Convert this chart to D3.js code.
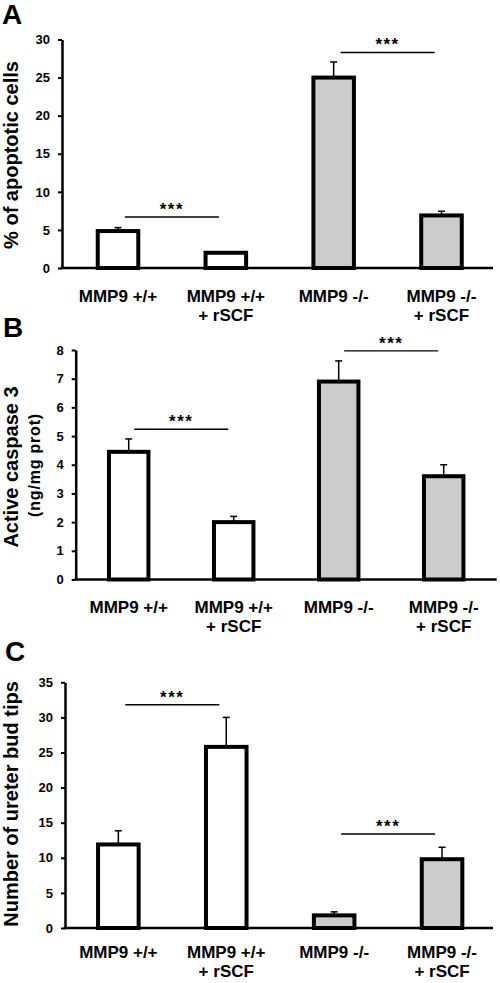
<!DOCTYPE html>
<html>
<head>
<meta charset="utf-8">
<script src="https://cdn.jsdelivr.net/npm/d3@7"></script>
<style>
html, body { margin: 0; padding: 0; background: #fff; }
svg { display: block; }
</style>
</head>
<body>
<svg id="chart" width="500" height="983"></svg>
<script>
// ---------- data ----------
const categoryLines = [["MMP9 +/+"], ["MMP9 +/+", "+ rSCF"], ["MMP9 -/-"], ["MMP9 -/-", "+ rSCF"]];
const categoryKeys = ["wt", "wt_rscf", "ko", "ko_rscf"];

const apoptosisValues = [4.85, 2.0, 25.0, 6.9];
const apoptosisErrors = [0.45, 0.1, 2.05, 0.55];
const apoptosisTicks = [0, 5, 10, 15, 20, 25, 30];
const apoptosisSig = [[0, 1, 6.7], [2, 3, 28.3]];

const caspaseValues = [4.45, 2.0, 6.9, 3.6];
const caspaseErrors = [0.45, 0.2, 0.72, 0.4];
const caspaseTicks = [0, 1, 2, 3, 4, 5, 6, 7, 8];
const caspaseSig = [[0, 1, 5.24], [2, 3, 7.97]];

const tipsValues = [11.9, 25.8, 1.8, 9.8];
const tipsErrors = [1.95, 4.2, 0.5, 1.7];
const tipsTicks = [0, 5, 10, 15, 20, 25, 30, 35];
const tipsSig = [[0, 1, 31.8], [2, 3, 13.4]];

const panelLetters = ["A", "B", "C"];

// ---------- drawing ----------
const svg = d3.select("#chart");
const FONT = "'Liberation Sans', Arial, Helvetica, sans-serif";
const fills = ["#ffffff", "#ffffff", "#cccccc", "#cccccc"];

function drawPanel(cfg) {
  const g = svg.append("g");
  const max = cfg.ticks[cfg.ticks.length - 1];
  const y = d3.scaleLinear().domain([0, max]).range([cfg.y0, cfg.yTop]);
  const x = d3.scaleBand().domain(categoryKeys).range(cfg.xRange)
    .paddingInner(0.624).paddingOuter(0.312);

  // panel letter
  g.append("text").attr("x", cfg.letterX).attr("y", cfg.letterY)
    .attr("font-family", FONT).attr("font-weight", "bold").attr("font-size", 28)
    .attr("fill", "#000").text(cfg.letter);

  // y axis
  const yAxis = d3.axisLeft(y).tickValues(cfg.ticks).tickSize(4).tickSizeOuter(0).tickPadding(8)
    .tickFormat(d3.format("d"));
  const ya = g.append("g").attr("transform", `translate(${cfg.axisX},0)`).call(yAxis);
  ya.select(".domain").attr("stroke", "#000").attr("stroke-width", 2.5);
  ya.selectAll(".tick line").attr("stroke", "#000").attr("stroke-width", 2);
  ya.selectAll(".tick text").attr("font-family", FONT).attr("font-weight", "bold")
    .attr("font-size", 13).attr("fill", "#000");

  // bars
  const data = cfg.values.map((v, i) => ({ key: categoryKeys[i], v: v, e: cfg.errors[i], i: i }));
  g.selectAll("rect.bar").data(data).enter().append("rect").attr("class", "bar")
    .attr("x", d => x(d.key)).attr("width", x.bandwidth())
    .attr("y", d => y(d.v)).attr("height", d => y(0) - y(d.v))
    .attr("fill", d => fills[d.i]).attr("stroke", "#000").attr("stroke-width", 4);

  // error bars
  const eg = g.selectAll("g.err").data(data).enter().append("g").attr("class", "err");
  eg.append("line")
    .attr("x1", d => x(d.key) + x.bandwidth() / 2).attr("x2", d => x(d.key) + x.bandwidth() / 2)
    .attr("y1", d => y(d.v)).attr("y2", d => y(d.v + d.e))
    .attr("stroke", "#000").attr("stroke-width", 1.5);
  eg.append("line")
    .attr("x1", d => x(d.key) + x.bandwidth() / 2 - 3.5).attr("x2", d => x(d.key) + x.bandwidth() / 2 + 3.5)
    .attr("y1", d => y(d.v + d.e)).attr("y2", d => y(d.v + d.e))
    .attr("stroke", "#000").attr("stroke-width", 1.5);

  // x axis line
  g.append("line").attr("x1", cfg.axisX - 1.25).attr("x2", cfg.axisEnd)
    .attr("y1", y(0)).attr("y2", y(0)).attr("stroke", "#000").attr("stroke-width", 2.5);

  // category labels
  categoryKeys.forEach((k, i) => {
    const t = g.append("text").attr("text-anchor", "middle")
      .attr("font-family", FONT).attr("font-weight", "bold").attr("font-size", 17).attr("fill", "#000");
    categoryLines[i].forEach((line, j) => {
      t.append("tspan").attr("x", x(k) + x.bandwidth() / 2).attr("y", cfg.labelY + j * 18.5).text(line);
    });
  });

  // significance
  cfg.sig.forEach(s => {
    const c1 = x(categoryKeys[s[0]]) + x.bandwidth() / 2;
    const c2 = x(categoryKeys[s[1]]) + x.bandwidth() / 2;
    const mid = (c1 + c2) / 2;
    g.append("line").attr("x1", mid - 47).attr("x2", mid + 47)
      .attr("y1", y(s[2])).attr("y2", y(s[2])).attr("stroke", "#000").attr("stroke-width", 1.4);
    g.append("text").attr("x", mid).attr("y", y(s[2]) - 2).attr("text-anchor", "middle")
      .attr("font-family", FONT).attr("font-weight", "bold").attr("font-size", 17)
      .attr("letter-spacing", "1.5px").attr("fill", "#000").text("***");
  });

  // y title
  cfg.titles.forEach(tt => {
    g.append("text").attr("transform", `translate(${tt.x},${tt.y}) rotate(-90)`)
      .attr("text-anchor", "middle").attr("font-family", FONT).attr("font-weight", "bold")
      .attr("font-size", tt.size).attr("letter-spacing", tt.ls || "0px").attr("fill", "#000").text(tt.text);
  });
}

drawPanel({
  letter: panelLetters[0], letterX: 2, letterY: 24,
  values: apoptosisValues, errors: apoptosisErrors, ticks: apoptosisTicks, sig: apoptosisSig,
  axisX: 62, y0: 268, yTop: 39.5, xRange: [64.1, 495.4], axisEnd: 493, labelY: 302,
  titles: [{ text: "% of apoptotic cells", x: 18, y: 155, size: 20 }]
});

drawPanel({
  letter: panelLetters[1], letterX: 3, letterY: 337,
  values: caspaseValues, errors: caspaseErrors, ticks: caspaseTicks, sig: caspaseSig,
  axisX: 75.7, y0: 579.5, yTop: 350, xRange: [76.2, 496.2], axisEnd: 496.7, labelY: 613,
  titles: [{ text: "Active caspase 3", x: 18, y: 467, size: 20 },
           { text: "(ng/mg prot)", x: 39.5, y: 465, size: 16, ls: "0.8px" }]
});

drawPanel({
  letter: panelLetters[2], letterX: 5, letterY: 661,
  values: tipsValues, errors: tipsErrors, ticks: tipsTicks, sig: tipsSig,
  axisX: 65, y0: 928, yTop: 682.3, xRange: [64.4, 496], axisEnd: 493, labelY: 958,
  titles: [{ text: "Number of ureter bud tips", x: 18, y: 804, size: 20 }]
});
</script>
</body>
</html>
